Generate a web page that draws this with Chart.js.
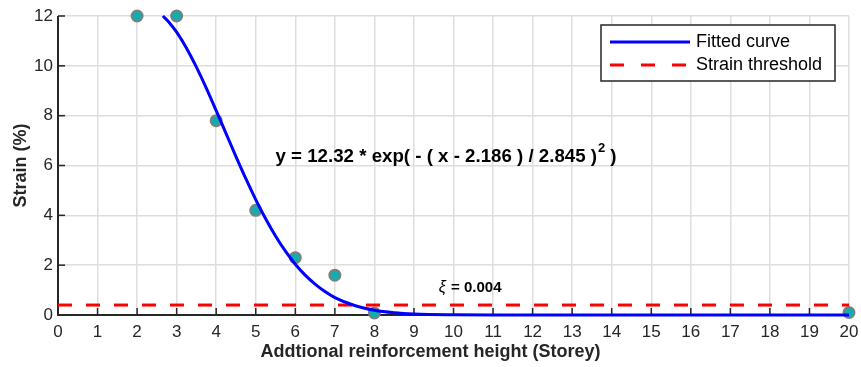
<!DOCTYPE html>
<html>
<head>
<meta charset="utf-8">
<script src="https://cdn.jsdelivr.net/npm/chart.js@4.4.1/dist/chart.umd.min.js"></script>
<style>
  html, body { margin: 0; padding: 0; background: #fff; }
  #wrap { width: 861px; height: 367px; }
</style>
</head>
<body>
<div id="wrap"><canvas id="strainChart" width="861" height="367"></canvas></div>
<script>
// Measured points (storey, strain %)
const measuredX = [2, 3, 4, 5, 6, 7, 8, 20];
const measuredY = [12, 12, 7.8, 4.2, 2.3, 1.6, 0.08, 0.1];

const curveX = [2.65, 2.8, 3, 3.25, 3.5, 3.75, 4, 4.25, 4.5, 4.75, 5, 5.25, 5.5, 5.75, 6, 6.25, 6.5, 6.75, 7, 7.5, 8, 8.5, 9, 10, 11, 12, 14, 16, 18, 20];
const curveY = [12, 11.76, 11.35, 10.71, 9.95, 9.11, 8.20, 7.28, 6.36, 5.47, 4.63, 3.86, 3.17, 2.56, 2.04, 1.60, 1.24, 0.94, 0.70, 0.38, 0.19, 0.09, 0.04, 0.007, 0, 0, 0, 0, 0, 0];

// Strain threshold
const thresholdX = [0, 20];
const thresholdY = [0.4, 0.4];

const xTicks = [0, 1, 2, 3, 4, 5, 6, 7, 8, 9, 10, 11, 12, 13, 14, 15, 16, 17, 18, 19, 20];
const yTicks = [0, 2, 4, 6, 8, 10, 12];

const xTitle = 'Addtional reinforcement height (Storey)';

const FONT = "'Liberation Sans', Arial, sans-serif";

function toPoints(xs, ys) {
    return xs.map((x, i) => ({ x: x, y: ys[i] }));
}

// Axis lines + inward ticks (MATLAB style), annotations and legend box
const axesPlugin = {
    id: 'axesPlugin',
    beforeDatasetsDraw(chart) {
        const ctx = chart.ctx;
        const a = chart.chartArea;
        const xs = chart.scales.x, ys = chart.scales.y;
        ctx.save();
        ctx.strokeStyle = '#262626';
        ctx.lineWidth = 2;
        ctx.beginPath();
        ctx.moveTo(a.left, a.top);
        ctx.lineTo(a.left, a.bottom);
        ctx.lineTo(a.right, a.bottom);
        ctx.stroke();
        ctx.lineWidth = 1.5;
        xTicks.forEach(v => {
            const px = xs.getPixelForValue(v);
            ctx.beginPath();
            ctx.moveTo(px, a.bottom);
            ctx.lineTo(px, a.bottom - 7);
            ctx.stroke();
        });
        yTicks.forEach(v => {
            const py = ys.getPixelForValue(v);
            ctx.beginPath();
            ctx.moveTo(a.left, py);
            ctx.lineTo(a.left + 7, py);
            ctx.stroke();
        });
        ctx.restore();
    },
    afterDraw(chart) {
        const ctx = chart.ctx;
        const xs = chart.scales.x, ys = chart.scales.y;
        ctx.save();
        ctx.fillStyle = '#000';
        ctx.textBaseline = 'middle';

        // x axis title, centred on the figure like the original
        ctx.fillStyle = '#262626';
        ctx.font = 'bold 18px ' + FONT;
        ctx.textAlign = 'center';
        ctx.fillText(xTitle, chart.width / 2, 352);
        ctx.textAlign = 'left';
        ctx.fillStyle = '#000';

        // equation label
        let px = xs.getPixelForValue(5.5);
        let py = ys.getPixelForValue(6.35);
        ctx.font = 'bold 18.7px ' + FONT;
        const part1 = 'y = 12.32 * exp( - ( x - 2.186 ) / 2.845 )';
        ctx.fillText(part1, px, py);
        let w = ctx.measureText(part1).width;
        ctx.font = 'bold 13px ' + FONT;
        ctx.fillText('2', px + w + 1, py - 8);
        ctx.font = 'bold 18.7px ' + FONT;
        ctx.fillText(' )', px + w + 8, py);

        // threshold label
        px = xs.getPixelForValue(9.63);
        py = ys.getPixelForValue(1.1);
        ctx.font = 'italic 16px ' + FONT;
        ctx.fillText('ξ', px, py);
        ctx.font = 'bold 15px ' + FONT;
        ctx.fillText(' = 0.004', px + 8, py);

        // legend box
        const lx = 601, ly = 25, lw = 234, lh = 56;
        ctx.fillStyle = '#fff';
        ctx.fillRect(lx, ly, lw, lh);
        ctx.strokeStyle = '#262626';
        ctx.lineWidth = 1.5;
        ctx.strokeRect(lx, ly, lw, lh);
        ctx.lineWidth = 3;
        ctx.strokeStyle = '#0000ff';
        ctx.beginPath();
        ctx.moveTo(610, 42);
        ctx.lineTo(690, 42);
        ctx.stroke();
        ctx.strokeStyle = '#ff0000';
        ctx.setLineDash([14, 17]);
        ctx.beginPath();
        ctx.moveTo(610, 65);
        ctx.lineTo(690, 65);
        ctx.stroke();
        ctx.setLineDash([]);
        ctx.fillStyle = '#000';
        ctx.font = '18px ' + FONT;
        ctx.fillText('Fitted curve', 696, 42);
        ctx.fillText('Strain threshold', 696, 65);
        ctx.restore();
    }
};

const chart = new Chart(document.getElementById('strainChart'), {
    type: 'scatter',
    data: {
        datasets: [
            {
                label: 'Fitted curve',
                data: toPoints(curveX, curveY),
                showLine: true,
                borderColor: '#0000ff',
                borderWidth: 3,
                pointRadius: 0,
                cubicInterpolationMode: 'monotone',
                clip: false,
                order: 0
            },
            {
                label: 'Strain threshold',
                data: toPoints(thresholdX, thresholdY),
                showLine: true,
                borderColor: '#ff0000',
                borderWidth: 3,
                borderDash: [14, 14],
                pointRadius: 0,
                order: 1
            },
            {
                label: 'Measured',
                data: toPoints(measuredX, measuredY),
                backgroundColor: '#13adad',
                borderColor: '#7f7f7f',
                borderWidth: 2,
                pointRadius: 5.5,
                clip: false,
                order: 2
            }
        ]
    },
    options: {
        responsive: false,
        animation: false,
        layout: { padding: { top: 16, right: 12, left: 6, bottom: 0 } },
        plugins: {
            legend: { display: false },
            tooltip: { enabled: false }
        },
        scales: {
            x: {
                type: 'linear',
                min: 0,
                max: 20,
                afterBuildTicks: scale => { scale.ticks = xTicks.map(v => ({ value: v })); },
                afterFit: scale => {
                    scale.height = 52;
                    scale.paddingLeft = 0;
                    scale.paddingRight = 0;
                },
                grid: { color: '#dedede', lineWidth: 1.5, drawTicks: false },
                border: { display: false },
                ticks: { color: '#262626', padding: 7, font: { family: FONT, size: 17 } },
                title: { display: false }
            },
            y: {
                type: 'linear',
                min: 0,
                max: 12,
                afterBuildTicks: scale => { scale.ticks = yTicks.map(v => ({ value: v })); },
                afterFit: scale => { scale.width = 52; },
                grid: { color: '#dedede', lineWidth: 1.5, drawTicks: false },
                border: { display: false },
                ticks: { color: '#262626', padding: 5, font: { family: FONT, size: 17 } },
                title: {
                    display: true,
                    text: 'Strain (%)',
                    color: '#262626',
                    padding: { bottom: 2 },
                    font: { family: FONT, size: 18, weight: 'bold' }
                }
            }
        }
    },
    plugins: [axesPlugin]
});
</script>
</body>
</html>
